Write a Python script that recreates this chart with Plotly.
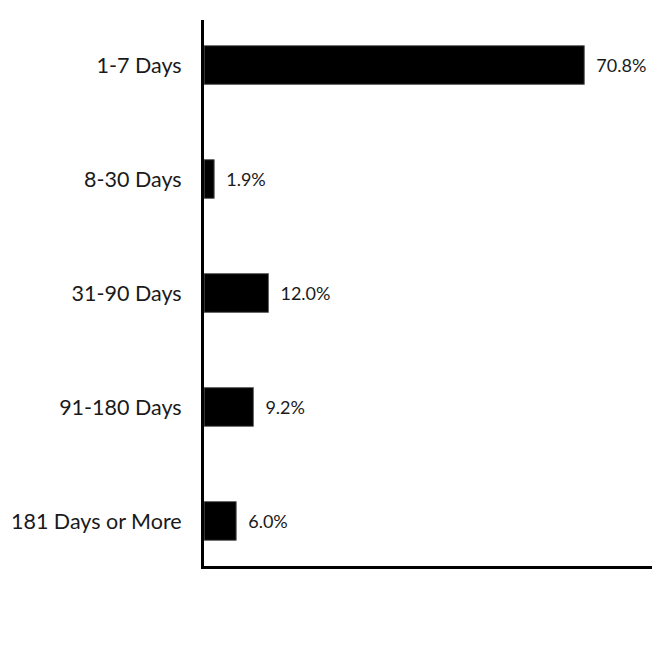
import plotly.graph_objects as go

# Aging buckets and share of total
buckets = ['1-7 Days', '8-30 Days', '31-90 Days', '91-180 Days', '181 Days or More']
shares = [70.8, 1.9, 12.0, 9.2, 6.0]

fig = go.Figure()
fig.add_trace(go.Bar(x=shares,
                     y=buckets,
                     orientation='h',
                     width=0.34,
                     marker=dict(color='black', line=dict(color='#666666', width=1)),
                     text=['\u2002' + f'{v:.1f}%' for v in shares],
                     textposition='outside',
                     textfont=dict(size=18, color='#1a1a1a', family='Lato'),
                     cliponaxis=False,
                     showlegend=False))

fig.update_layout(
    xaxis=dict(range=[0, 83.4],
               showgrid=False,
               zeroline=False,
               showticklabels=False,
               ticks='',
               showline=True,
               linecolor='black',
               linewidth=3,
               automargin=False),
    yaxis=dict(range=[4.395, -0.395],
               showgrid=False,
               ticks='',
               ticklabelstandoff=15,
               tickfont=dict(size=21.5, color='#1a1a1a', family='Lato'),
               showline=True,
               linecolor='black',
               linewidth=3,
               automargin=False),
    plot_bgcolor='white',
    paper_bgcolor='white',
    margin=dict(l=196, r=28, t=12, b=90),
    width=672,
    height=648,
)

fig.write_html("out.html")
